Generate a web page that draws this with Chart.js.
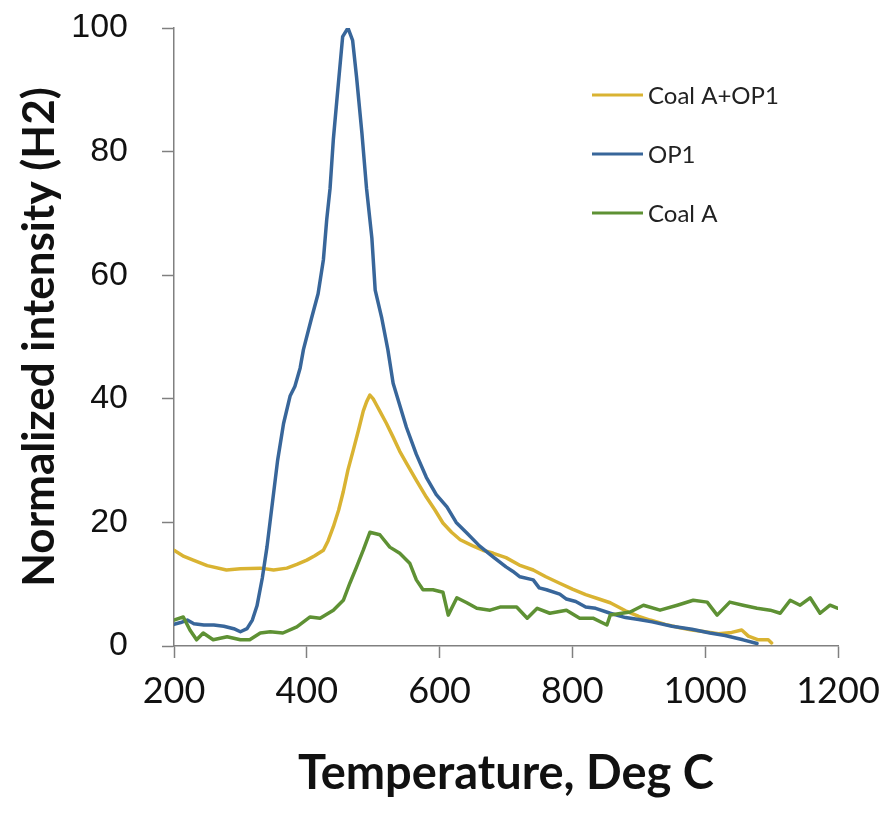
<!DOCTYPE html>
<html>
<head>
<meta charset="utf-8">
<script src="https://cdn.jsdelivr.net/npm/chart.js@4.4.1/dist/chart.umd.min.js"></script>
<style>
  html, body { margin: 0; padding: 0; background: #fff; }
  #wrap { width: 887px; height: 816px; position: relative; }
</style>
</head>
<body>
<div id="wrap"><canvas id="chart"></canvas></div>
<script>
// values (temperature in deg C, normalized intensity)
const seriesNames = ["Coal A+OP1", "OP1", "Coal A"];
const xTicks = [200, 400, 600, 800, 1000, 1200];
const yTicks = [0, 20, 40, 60, 80, 100];

const mixTemp = [200, 215, 229, 250, 279, 300, 330, 350, 370, 385, 400, 412, 425, 432, 440, 448, 455, 462, 470, 478, 485, 490, 495, 500, 505, 510, 520, 530, 540, 550, 565, 580, 593, 605, 618, 631, 650, 665, 681, 700, 720, 741, 760, 780, 800, 820, 840, 857, 880, 900, 917, 940, 960, 980, 1000, 1020, 1040, 1055, 1065, 1080, 1095, 1100];
const mixVal = [15.5, 14.5, 13.9, 13.0, 12.3, 12.5, 12.6, 12.3, 12.6, 13.2, 13.9, 14.6, 15.5, 17.0, 19.3, 22.0, 25.0, 28.5, 31.7, 35.0, 38.0, 39.5, 40.6, 40.0, 39.0, 38.0, 36.0, 33.8, 31.5, 29.6, 26.8, 24.1, 22.0, 19.9, 18.4, 17.2, 16.2, 15.5, 15.0, 14.3, 13.1, 12.3, 11.2, 10.2, 9.2, 8.3, 7.6, 7.0, 5.7, 4.8, 4.2, 3.5, 3.0, 2.6, 2.3, 2.0, 2.2, 2.6, 1.6, 1.0, 1.0, 0.5];

const op1Temp = [200, 210, 220, 230, 245, 260, 275, 290, 300, 310, 318, 325, 333, 340, 348, 356, 365, 375, 382, 390, 395, 407, 417, 425, 430, 435, 440, 445, 454, 462, 469, 475, 483, 490, 498, 503, 513, 522, 530, 550, 565, 580, 595, 611, 625, 641, 660, 681, 700, 710, 721, 741, 750, 761, 781, 791, 805, 820, 835, 857, 880, 900, 920, 950, 980, 1007, 1030, 1057, 1078];
const op1Val = [3.5, 3.8, 4.2, 3.6, 3.4, 3.4, 3.2, 2.8, 2.3, 2.8, 4.2, 6.5, 11.0, 16.0, 23.0, 30.0, 36.0, 40.5, 42.0, 45.0, 48.0, 53.0, 57.0, 62.5, 69.0, 74.0, 82.0, 88.0, 98.6, 100.0, 98.0, 92.0, 83.0, 74.0, 66.0, 57.6, 53.0, 48.0, 42.5, 35.4, 31.0, 27.3, 24.5, 22.5, 20.0, 18.3, 16.2, 14.4, 12.8, 12.1, 11.2, 10.7, 9.4, 9.1, 8.4, 7.6, 7.2, 6.3, 6.1, 5.3, 4.6, 4.3, 3.9, 3.2, 2.7, 2.1, 1.7, 1.0, 0.4];

const coalTemp = [200, 214, 224, 234, 244, 259, 280, 300, 314, 330, 345, 364, 385, 405, 420, 440, 455, 465, 475, 485, 495, 510, 525, 540, 555, 565, 575, 590, 605, 613, 626, 641, 656, 676, 691, 716, 732, 747, 766, 791, 811, 831, 852, 857, 887, 907, 932, 958, 982, 1003, 1018, 1037, 1057, 1078, 1098, 1113, 1128, 1143, 1158, 1173, 1188, 1200];
const coalVal = [4.2, 4.7, 2.6, 1.0, 2.1, 1.0, 1.5, 1.0, 1.0, 2.1, 2.3, 2.1, 3.1, 4.7, 4.5, 5.8, 7.4, 10.2, 12.8, 15.5, 18.4, 18.0, 16.0, 15.0, 13.4, 10.7, 9.1, 9.1, 8.7, 5.0, 7.8, 7.0, 6.1, 5.8, 6.3, 6.3, 4.5, 6.1, 5.3, 5.8, 4.5, 4.5, 3.4, 5.0, 5.5, 6.6, 5.8, 6.6, 7.4, 7.1, 5.0, 7.1, 6.6, 6.1, 5.8, 5.3, 7.4, 6.6, 7.8, 5.3, 6.6, 6.1];

const colors = ["#d9b332", "#38669a", "#5e9134"];

function pts(xs, ys) {
  return xs.map((x, i) => ({ x: x, y: ys[i] }));
}

// legend drawn inside the plot, top right, like the original
const insideLegend = {
  id: "insideLegend",
  afterDraw(chart) {
    const ctx = chart.ctx;
    const rows = [95, 154, 213];
    ctx.save();
    ctx.font = "24px Lato";
    ctx.textBaseline = "middle";
    ctx.fillStyle = "#222";
    chart.data.datasets.forEach((ds, i) => {
      const y = rows[i];
      ctx.strokeStyle = ds.borderColor;
      ctx.lineWidth = 3;
      ctx.beginPath();
      ctx.moveTo(592, y);
      ctx.lineTo(643, y);
      ctx.stroke();
      ctx.fillText(ds.label, 648, y + 1);
    });
    ctx.restore();
  },
};

const axisGray = "#808080";

new Chart(document.getElementById("chart"), {
  type: "line",
  data: {
    datasets: [
      { label: seriesNames[0], data: pts(mixTemp, mixVal), borderColor: colors[0], order: 2 },
      { label: seriesNames[1], data: pts(op1Temp, op1Val), borderColor: colors[1], order: 1 },
      { label: seriesNames[2], data: pts(coalTemp, coalVal), borderColor: colors[2], order: 0 },
    ],
  },
  options: {
    responsive: true,
    maintainAspectRatio: false,
    animation: false,
    elements: {
      line: { borderWidth: 3.5, tension: 0, borderCapStyle: "round", borderJoinStyle: "round" },
      point: { radius: 0 },
    },
    layout: { padding: { top: 28, right: 49, bottom: 0, left: 0 } },
    plugins: {
      legend: { display: false },
      tooltip: { enabled: false },
    },
    scales: {
      x: {
        type: "linear",
        min: xTicks[0],
        max: xTicks[xTicks.length - 1],
        afterBuildTicks: (s) => { s.ticks = xTicks.map((v) => ({ value: v })); },
        afterFit: (s) => { s.height = 170; s.paddingLeft = 0; s.paddingRight = 0; },
        border: { color: axisGray, width: 1.5 },
        grid: { drawOnChartArea: false, tickLength: 12, color: axisGray, tickWidth: 1.5 },
        ticks: {
          color: "#111",
          font: { family: "Lato", size: 36 },
          padding: 12,
          maxRotation: 0,
          callback: (v) => String(v),
        },
        title: {
          display: true,
          text: "Temperature, Deg C",
          color: "#111",
          font: { family: "Lato", size: 47, weight: "bold" },
          padding: { top: 0, bottom: 14 },
        },
      },
      y: {
        min: yTicks[0],
        max: yTicks[yTicks.length - 1],
        afterBuildTicks: (s) => { s.ticks = yTicks.map((v) => ({ value: v })); },
        afterFit: (s) => { s.width = 174; s.paddingTop = 0; s.paddingBottom = 0; },
        border: { color: axisGray, width: 1.5 },
        grid: { drawOnChartArea: false, tickLength: 12, color: axisGray, tickWidth: 1.5 },
        ticks: {
          color: "#111",
          font: { family: "Liberation Sans", size: 34 },
          padding: 34,
        },
        title: {
          display: true,
          text: "Normalized intensity (H2)",
          color: "#111",
          font: { family: "Lato", size: 44, weight: "bold" },
          padding: { top: 13, bottom: 0 },
        },
      },
    },
  },
  plugins: [insideLegend],
});
</script>
</body>
</html>
